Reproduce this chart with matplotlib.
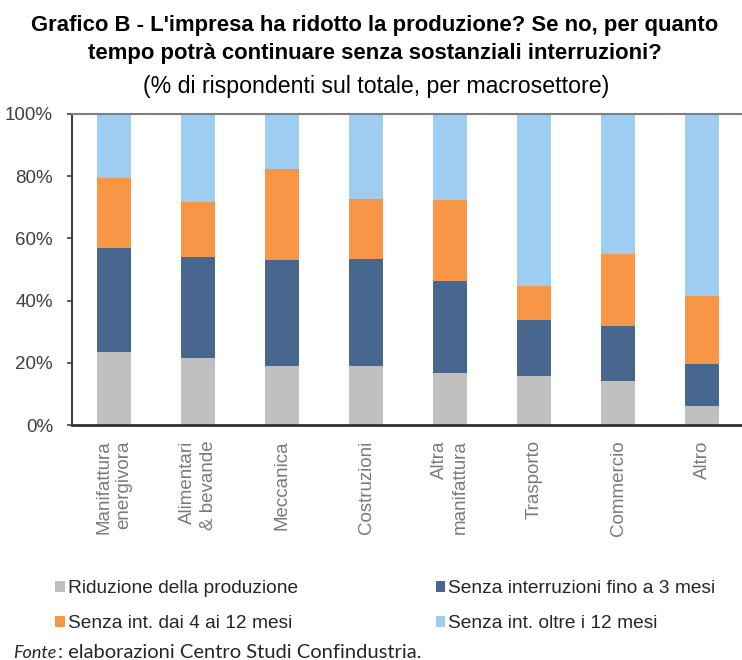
import matplotlib.pyplot as plt
import numpy as np

# dati (% di rispondenti)
settori = ['Manifattura\nenergivora', 'Alimentari\n& bevande', 'Meccanica', 'Costruzioni',
           'Altra\nmanifattura', 'Trasporto', 'Commercio', 'Altro']
riduzione = [23.4, 21.5, 19.0, 19.0, 16.6, 15.7, 14.2, 6.1]
fino_3 = [33.5, 32.5, 34.0, 34.5, 29.6, 18.2, 17.6, 13.6]
da_4_a_12 = [22.5, 17.7, 29.3, 19.3, 26.2, 10.7, 23.3, 21.9]
oltre_12 = [20.6, 28.3, 17.7, 27.2, 27.6, 55.4, 44.9, 58.4]

serie = [
    ('Riduzione della produzione', riduzione, '#BFBFBF'),
    ('Senza interruzioni fino a 3 mesi', fino_3, '#48678F'),
    ('Senza int. dai 4 ai 12 mesi', da_4_a_12, '#F79646'),
    ('Senza int. oltre i 12 mesi', oltre_12, '#9DCDF1'),
]

plt.rcParams['font.family'] = ['Liberation Sans', 'DejaVu Sans']

fig = plt.figure(figsize=(7.42, 6.60), dpi=100)
ax = fig.add_axes([72 / 742, 235 / 660, 672 / 742, 311 / 660])

x = np.arange(len(settori))
base = np.zeros(len(settori))
handles = {}
for nome, valori, colore in serie:
    valori = np.array(valori)
    b = ax.bar(x, valori, 0.4, bottom=base, color=colore, label=nome)
    handles[nome] = b
    base += valori

ax.set_xlim(-0.5, 7.5)
ax.set_ylim(0, 100)
ax.set_yticks(range(0, 101, 20))
ax.set_yticklabels(['%d%%' % v for v in range(0, 101, 20)], fontsize=13.5, color='#404040')
ax.set_xticks(x)
ax.set_xticklabels(settori, rotation=90, fontsize=13.5, color='#7A7A7A',
                   va='top', ha='center', multialignment='right', linespacing=1.25)
ax.tick_params(axis='x', length=0, pad=11)
ax.tick_params(axis='y', length=3.6, width=1.2, color='#404040', pad=10)

ax.spines['right'].set_visible(False)
ax.spines['top'].set_color('#7F7F7F')
ax.spines['top'].set_linewidth(1.5)
ax.spines['left'].set_color('#404040')
ax.spines['left'].set_linewidth(1.5)
ax.spines['bottom'].set_color('#303030')
ax.spines['bottom'].set_linewidth(2)

# titolo
fig.text(374.5 / 742, 1 - 25 / 660, "Grafico B - L'impresa ha ridotto la produzione? Se no, per quanto",
         ha='center', va='center', fontsize=15.9, fontweight='bold')
fig.text(375 / 742, 1 - 53 / 660, "tempo potrà continuare senza sostanziali interruzioni?",
         ha='center', va='center', fontsize=15.9, fontweight='bold')
fig.text(376 / 742, 1 - 87 / 660, "(% di rispondenti sul totale, per macrosettore)",
         ha='center', va='center', fontsize=16.7)

# legenda (colonne: grigio/arancio | blu/azzurro)
ordine = ['Riduzione della produzione', 'Senza int. dai 4 ai 12 mesi',
          'Senza interruzioni fino a 3 mesi', 'Senza int. oltre i 12 mesi']
leg = fig.legend([handles[n] for n in ordine], ordine, ncol=2, frameon=False,
                 loc='upper left', bbox_to_anchor=(38 / 742, 1 - 563 / 660),
                 prop={'size': 13.8},
                 handlelength=0.5, handleheight=0.5, handletextpad=0.15,
                 columnspacing=7.2, labelspacing=0.95)
for t in leg.get_texts():
    t.set_color('#262626')

fig.text(13 / 742, 1 - 653 / 660, 'Fonte', style='italic', fontsize=13,
         family=['Lato', 'DejaVu Sans'], va='center', color='#262626')
fig.text(58 / 742, 1 - 653 / 660, ': elaborazioni Centro Studi Confindustria.', fontsize=14.5,
         family=['Lato', 'DejaVu Sans'], va='center', color='#262626')

fig.savefig('out.png', dpi=100)
